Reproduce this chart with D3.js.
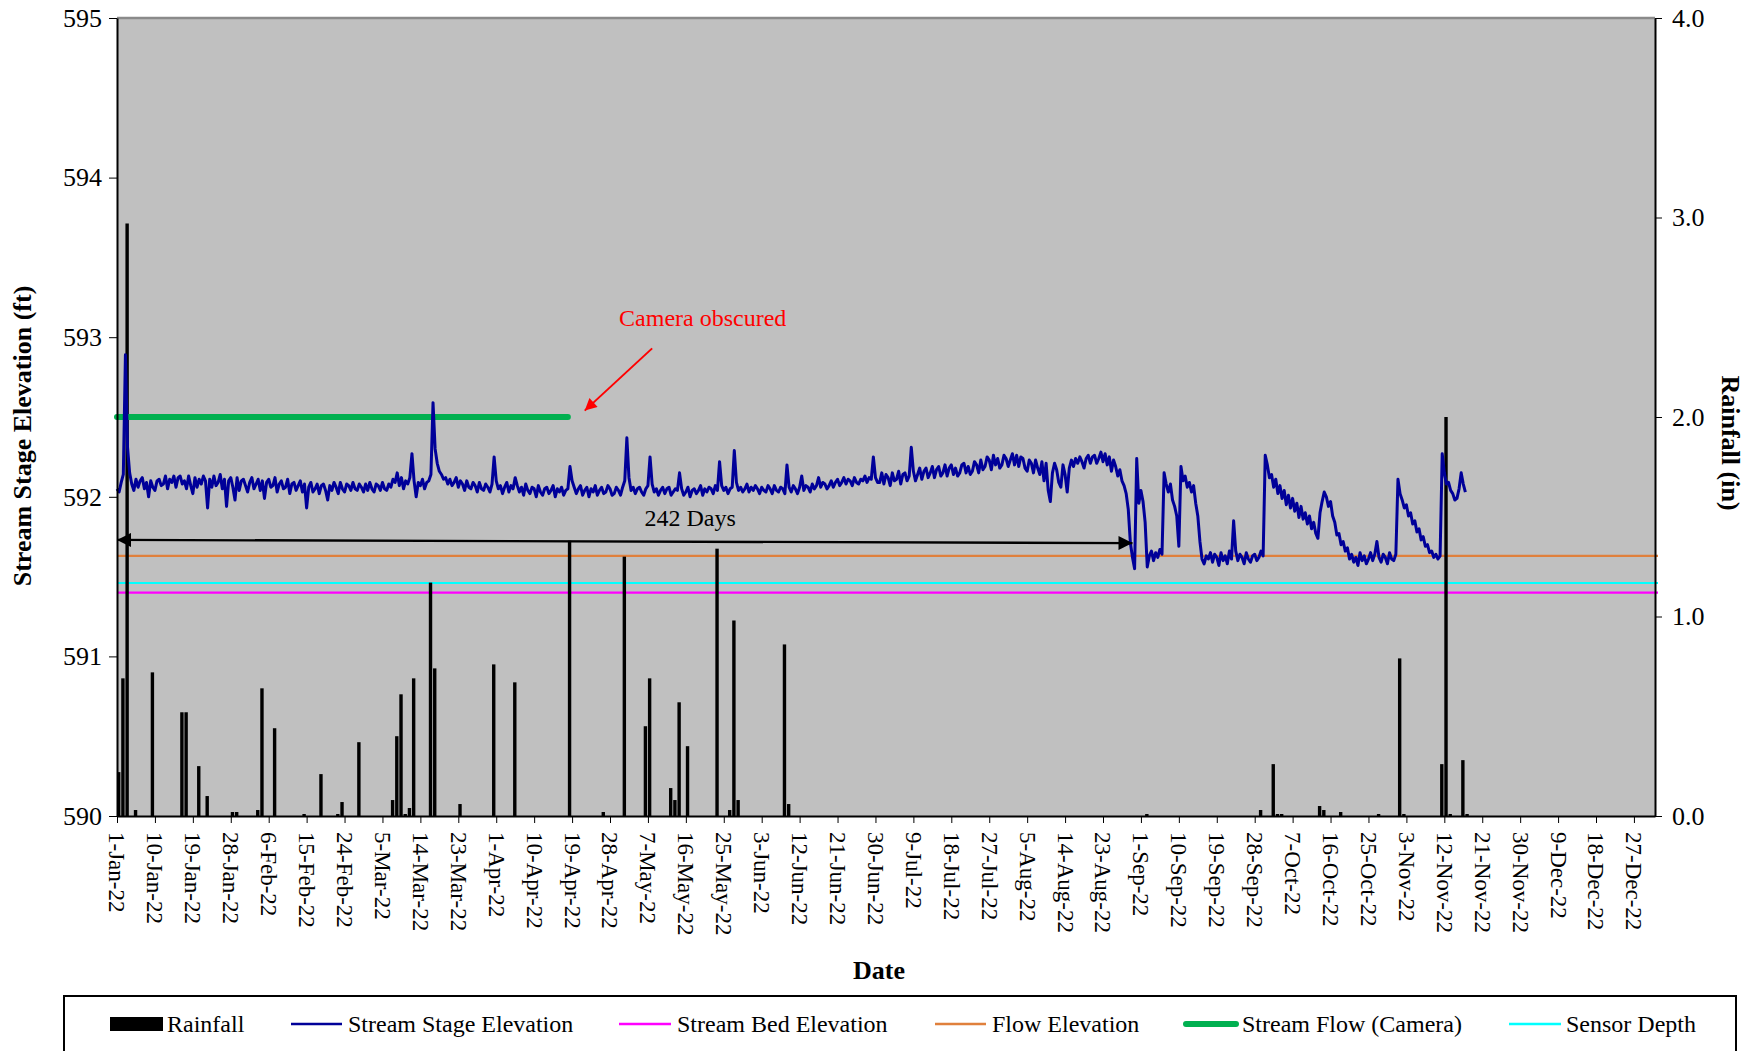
<!DOCTYPE html>
<html>
<head>
<meta charset="utf-8">
<script src="https://cdn.jsdelivr.net/npm/d3@7"></script>
<style>
  html, body { margin: 0; padding: 0; background: #fff; }
  svg { display: block; }
  svg text { font-family: "Liberation Serif", "Times New Roman", serif; fill: #000; }
</style>
</head>
<body>
<svg id="chart" width="1758" height="1051"></svg>
<script>
// ---------- x-axis tick dates (every 9 days) ----------
const tickLabels = [
  "1-Jan-22","10-Jan-22","19-Jan-22","28-Jan-22","6-Feb-22","15-Feb-22","24-Feb-22",
  "5-Mar-22","14-Mar-22","23-Mar-22","1-Apr-22","10-Apr-22","19-Apr-22","28-Apr-22",
  "7-May-22","16-May-22","25-May-22","3-Jun-22","12-Jun-22","21-Jun-22","30-Jun-22",
  "9-Jul-22","18-Jul-22","27-Jul-22","5-Aug-22","14-Aug-22","23-Aug-22","1-Sep-22",
  "10-Sep-22","19-Sep-22","28-Sep-22","7-Oct-22","16-Oct-22","25-Oct-22","3-Nov-22",
  "12-Nov-22","21-Nov-22","30-Nov-22","9-Dec-22","18-Dec-22","27-Dec-22"
];
const stageTicks = [590, 591, 592, 593, 594, 595];
const rainTicks = [0, 1, 2, 3, 4];

// ---------- daily rainfall (in) ----------
const rainDates = [
  "1-Jan-22","2-Jan-22","3-Jan-22","5-Jan-22","9-Jan-22","16-Jan-22","17-Jan-22","20-Jan-22",
  "22-Jan-22","28-Jan-22","29-Jan-22","3-Feb-22","4-Feb-22","7-Feb-22","14-Feb-22","18-Feb-22",
  "22-Feb-22","23-Feb-22","27-Feb-22","7-Mar-22","8-Mar-22","9-Mar-22","10-Mar-22","11-Mar-22",
  "12-Mar-22","16-Mar-22","17-Mar-22","23-Mar-22","31-Mar-22","5-Apr-22","18-Apr-22","26-Apr-22",
  "1-May-22","6-May-22","7-May-22","12-May-22","13-May-22","14-May-22","16-May-22","23-May-22",
  "26-May-22","27-May-22","28-May-22","8-Jun-22","9-Jun-22","2-Sep-22","29-Sep-22","2-Oct-22",
  "3-Oct-22","4-Oct-22","13-Oct-22","14-Oct-22","18-Oct-22","27-Oct-22","1-Nov-22","2-Nov-22",
  "11-Nov-22","12-Nov-22","13-Nov-22","16-Nov-22","17-Nov-22"
];
const rainInches = [
  0.22, 0.69, 2.97, 0.03, 0.72, 0.52, 0.52, 0.25,
  0.10, 0.02, 0.02, 0.03, 0.64, 0.44, 0.01, 0.21,
  0.01, 0.07, 0.37, 0.08, 0.40, 0.61, 0.01, 0.04,
  0.69, 1.17, 0.74, 0.06, 0.76, 0.67, 1.38, 0.02,
  1.30, 0.45, 0.69, 0.14, 0.08, 0.57, 0.35, 1.34,
  0.03, 0.98, 0.08, 0.86, 0.06, 0.01, 0.03, 0.26,
  0.01, 0.01, 0.05, 0.03, 0.02, 0.01, 0.79, 0.01,
  0.26, 2.00, 0.01, 0.28, 0.01
];

// ---------- stream stage elevation (ft), two readings per day (00:00, 12:00) ----------
const stageJan = [
  592.05,592.03, 592.09,592.14, 592.89,592.31, 592.15,592.08, 592.04,592.11,
  592.06,592.10, 592.12,592.05, 592.09,592.00, 592.10,592.06, 592.04,592.10,
  592.11,592.07, 592.08,592.13, 592.05,592.11, 592.09,592.13, 592.06,592.12,
  592.13,592.08, 592.10,592.05, 592.13,592.07, 592.02,592.12, 592.06,592.11,
  592.08,592.13, 592.10,591.93, 592.11,592.06, 592.13,592.07, 592.09,592.14,
  592.05,592.11, 591.94,592.10, 592.12,592.06, 591.98,592.12, 592.04,592.10,
  592.11,592.07
];
const stageFeb = [
  592.03,592.09, 592.12,592.05, 592.08,592.11, 592.04,592.10, 591.99,592.09,
  592.11,592.06, 592.07,592.12, 592.03,592.08, 592.10,592.05, 592.06,592.11,
  592.02,592.08, 592.09,592.04, 592.07,592.10, 592.03,592.08, 591.93,592.06,
  592.09,592.03, 592.05,592.08, 592.02,592.07, 592.08,592.04, 591.98,592.07,
  592.04,592.09, 592.06,592.02, 592.09,592.05, 592.03,592.08, 592.07,592.04,
  592.09,592.05, 592.04,592.08, 592.06,592.03
];
const stageMar = [
  592.08,592.04, 592.09,592.05, 592.03,592.08, 592.07,592.04, 592.09,592.05,
  592.04,592.08, 592.06,592.11, 592.09,592.15, 592.07,592.12, 592.05,592.10,
  592.08,592.12, 592.27,592.10, 592.00,592.09, 592.07,592.11, 592.05,592.09,
  592.10,592.14, 592.59,592.30, 592.21,592.16, 592.14,592.11, 592.12,592.08,
  592.11,592.07, 592.09,592.12, 592.06,592.10, 592.08,592.04, 592.10,592.06,
  592.05,592.09, 592.07,592.03, 592.09,592.05, 592.04,592.08, 592.06,592.03,
  592.08,592.25
];
const stageApr = [
  592.10,592.05, 592.07,592.02, 592.06,592.09, 592.03,592.07, 592.05,592.12,
  592.07,592.03, 592.06,592.01, 592.08,592.04, 592.02,592.06, 592.05,592.00,
  592.07,592.03, 592.01,592.05, 592.06,592.02, 592.04,592.07, 592.00,592.05,
  592.03,592.06, 592.01,592.04, 592.05,592.19, 592.10,592.06, 592.02,592.05,
  592.07,592.01, 592.04,592.06, 592.00,592.05, 592.03,592.07, 592.01,592.04,
  592.06,592.02, 592.03,592.07, 592.05,592.01, 592.02,592.06, 592.04,592.01
];
const stageMay = [
  592.06,592.10, 592.37,592.12, 592.04,592.06, 592.02,592.05, 592.06,592.03,
  592.01,592.05, 592.07,592.25, 592.08,592.03, 592.05,592.01, 592.04,592.06,
  592.02,592.05, 592.06,592.01, 592.03,592.05, 592.04,592.15, 592.05,592.01,
  592.03,592.06, 592.00,592.04, 592.05,592.02, 592.04,592.07, 592.01,592.05,
  592.03,592.06, 592.05,592.02, 592.07,592.04, 592.22,592.07, 592.04,592.06,
  592.02,592.05, 592.06,592.29, 592.09,592.04, 592.06,592.03, 592.05,592.08,
  592.03,592.06
];
const stageJun = [
  592.04,592.07, 592.05,592.02, 592.06,592.04, 592.03,592.07, 592.05,592.02,
  592.07,592.04, 592.03,592.06, 592.05,592.02, 592.20,592.06, 592.03,592.07,
  592.05,592.02, 592.06,592.13, 592.04,592.07, 592.06,592.03, 592.08,592.05,
  592.07,592.12, 592.06,592.09, 592.08,592.05, 592.07,592.10, 592.06,592.09,
  592.11,592.07, 592.09,592.12, 592.08,592.11, 592.10,592.07, 592.12,592.09,
  592.08,592.11, 592.10,592.13, 592.09,592.12, 592.11,592.25, 592.12,592.09
];
const stageJul = [
  592.09,592.15, 592.08,592.14, 592.12,592.07, 592.15,592.10, 592.11,592.16,
  592.08,592.14, 592.15,592.10, 592.13,592.31, 592.16,592.10, 592.14,592.18,
  592.11,592.16, 592.18,592.12, 592.15,592.19, 592.12,592.17, 592.19,592.13,
  592.15,592.20, 592.13,592.18, 592.20,592.14, 592.18,592.13, 592.15,592.20,
  592.21,592.15, 592.19,592.14, 592.16,592.22, 592.20,592.15, 592.23,592.17,
  592.19,592.25, 592.23,592.17, 592.26,592.20, 592.24,592.18, 592.20,592.26,
  592.24,592.19
];
const stageAug = [
  592.23,592.27, 592.20,592.26, 592.19,592.25, 592.24,592.18, 592.16,592.23,
  592.21,592.15, 592.23,592.18, 592.14,592.22, 592.10,592.21, 592.04,591.97,
  592.15,592.21, 592.17,592.09, 592.06,592.20, 592.14,592.03, 592.18,592.23,
  592.19,592.24, 592.21,592.25, 592.22,592.18, 592.24,592.26, 592.21,592.25,
  592.26,592.21, 592.24,592.28, 592.22,592.27, 592.20,592.25, 592.16,592.23,
  592.19,592.13, 592.17,592.10, 592.07,592.02, 591.92,591.71, 591.62,591.55,
  592.24,591.96
];
const stageSep = [
  592.04,591.97, 591.84,591.56, 591.63,591.66, 591.60,591.65, 591.62,591.67,
  591.64,592.15, 592.08,592.03, 592.08,591.98, 591.94,591.88, 591.69,592.19,
  592.10,592.13, 592.06,592.09, 592.03,592.07, 591.96,591.88, 591.72,591.61,
  591.58,591.63, 591.61,591.65, 591.59,591.64, 591.62,591.57, 591.65,591.60,
  591.63,591.58, 591.66,591.61, 591.85,591.66, 591.60,591.64, 591.62,591.58,
  591.65,591.61, 591.59,591.63, 591.64,591.60, 591.62,591.66, 591.63,592.26
];
const stageOct = [
  592.20,592.12, 592.14,592.06, 592.11,592.02, 592.07,591.99, 592.04,591.95,
  592.01,591.93, 591.99,591.91, 591.96,591.87, 591.94,591.86, 591.90,591.83,
  591.88,591.80, 591.84,591.77, 591.74,591.90, 591.97,592.03, 592.00,591.94,
  591.97,591.88, 591.84,591.76, 591.77,591.70, 591.72,591.66, 591.68,591.61,
  591.64,591.59, 591.62,591.57, 591.65,591.60, 591.63,591.58, 591.61,591.65,
  591.60,591.64, 591.72,591.62, 591.59,591.64, 591.62,591.58, 591.65,591.61,
  591.60,591.64
];
const stageNov = [
  592.11,592.02, 591.98,591.93, 591.95,591.88, 591.90,591.83, 591.85,591.78,
  591.80,591.73, 591.75,591.69, 591.70,591.65, 591.66,591.62, 591.64,591.61,
  591.63,592.27, 592.15,592.08, 592.09,592.04, 592.02,591.98, 591.99,592.05,
  592.15,592.08, 592.03
];
const stageMonthStarts = ["1-Jan-22","1-Feb-22","1-Mar-22","1-Apr-22","1-May-22","1-Jun-22",
                          "1-Jul-22","1-Aug-22","1-Sep-22","1-Oct-22","1-Nov-22"];
const stageMonths = [stageJan, stageFeb, stageMar, stageApr, stageMay, stageJun,
                     stageJul, stageAug, stageSep, stageOct, stageNov];

// ---------- constant reference elevations (ft) ----------
const flowElevation = 591.63;
const sensorDepth = 591.46;
const streamBedElevation = 591.40;
const cameraFlowLevel = 592.50;
const cameraFlowDates = ["1-Jan-22", "18-Apr-22"];

// ---------- annotations ----------
const spanDates = ["1-Jan-22", "30-Aug-22"];
const spanLevels = [591.73, 591.71];
const spanLabel = "242 Days";
const spanLabelAt = ["17-May-22", 591.82];
const cameraArrowDates = ["8-May-22", "22-Apr-22"];
const cameraArrowLevels = [592.93, 592.54];
const cameraLabel = "Camera obscured";
const cameraLabelAt = ["20-May-22", 593.07];

// ---------- layout ----------
const plot = { left: 117, right: 1655, top: 18, bottom: 816 };
const parse = d3.utcParse("%d-%b-%y");
const serif = "'Liberation Serif','Times New Roman',serif";

const svg = d3.select("#chart");

const x = d3.scaleUtc()
  .domain([parse("1-Jan-22"), parse("1-Jan-23")])
  .range([plot.left, plot.right]);
const yL = d3.scaleLinear().domain([590, 595]).range([plot.bottom, plot.top]);
const yR = d3.scaleLinear().domain([0, 4]).range([plot.bottom, plot.top]);

// build stage series
const halfDay = 12 * 3600 * 1000;
const stagePoints = [];
stageMonths.forEach((vals, m) => {
  const t0 = +parse(stageMonthStarts[m]);
  vals.forEach((v, i) => stagePoints.push({ date: new Date(t0 + i * halfDay), value: v }));
});

// plot area background
svg.append("rect")
  .attr("x", plot.left).attr("y", plot.top)
  .attr("width", plot.right - plot.left).attr("height", plot.bottom - plot.top)
  .attr("fill", "#c0c0c0");

// horizontal reference levels
const levels = [
  { v: flowElevation, color: "#e0803c" },
  { v: sensorDepth, color: "#00ffff" },
  { v: streamBedElevation, color: "#ff00ff" }
];
svg.append("g").selectAll("line").data(levels).join("line")
  .attr("x1", plot.left).attr("x2", plot.right + 3)
  .attr("y1", d => yL(d.v)).attr("y2", d => yL(d.v))
  .attr("stroke", d => d.color).attr("stroke-width", 2.2);

// rainfall bars
const rain = rainDates.map((d, i) => ({ date: parse(d), value: rainInches[i] }));
svg.append("g").selectAll("rect").data(rain).join("rect")
  .attr("x", d => x(d.date))
  .attr("width", 3.4)
  .attr("y", d => yR(d.value))
  .attr("height", d => yR(0) - yR(d.value))
  .attr("fill", "#000");

// stream flow observed by camera
svg.append("line")
  .attr("x1", x(parse(cameraFlowDates[0]))).attr("x2", x(parse(cameraFlowDates[1])))
  .attr("y1", yL(cameraFlowLevel)).attr("y2", yL(cameraFlowLevel))
  .attr("stroke", "#00b050").attr("stroke-width", 6).attr("stroke-linecap", "round");

// stream stage elevation
svg.append("path")
  .datum(stagePoints)
  .attr("fill", "none")
  .attr("stroke", "#000099")
  .attr("stroke-width", 3)
  .attr("stroke-linejoin", "round")
  .attr("d", d3.line().x(d => x(d.date)).y(d => yL(d.value)));

// top frame line
svg.append("line")
  .attr("x1", plot.left).attr("x2", plot.right)
  .attr("y1", plot.top).attr("y2", plot.top)
  .attr("stroke", "#8a8a8a").attr("stroke-width", 2.5);

// axes
const styleAxis = (g, size) => {
  g.attr("font-family", null).attr("font-size", null);
  g.selectAll("text").style("font-family", serif).style("font-size", size + "px").attr("fill", "#000");
  g.select(".domain").attr("stroke", "#000").attr("stroke-width", 2);
  g.selectAll(".tick line").attr("stroke", "#000");
};

const gL = svg.append("g").attr("transform", `translate(${plot.left},0)`)
  .call(d3.axisLeft(yL).tickValues(stageTicks).tickFormat(d3.format("d"))
    .tickSize(8).tickSizeOuter(0).tickPadding(7));
styleAxis(gL, 26);

const gR = svg.append("g").attr("transform", `translate(${plot.right},0)`)
  .call(d3.axisRight(yR).tickValues(rainTicks).tickFormat(d3.format(".1f"))
    .tickSize(7).tickSizeOuter(0).tickPadding(10));
styleAxis(gR, 26);

const gX = svg.append("g").attr("transform", `translate(0,${plot.bottom})`)
  .call(d3.axisBottom(x).tickValues(tickLabels.map(parse))
    .tickFormat((d, i) => tickLabels[i]).tickSize(7).tickSizeOuter(0));
styleAxis(gX, 23);
gX.selectAll("text")
  .attr("transform", "rotate(90)")
  .attr("x", 16).attr("y", 0).attr("dy", "0.35em")
  .style("text-anchor", "start");

// axis titles
svg.append("text")
  .attr("transform", "translate(31,436) rotate(-90)")
  .attr("text-anchor", "middle").attr("font-size", 26).attr("font-weight", "bold")
  .text("Stream Stage Elevation (ft)");
svg.append("text")
  .attr("transform", "translate(1722,443) rotate(90)")
  .attr("text-anchor", "middle").attr("font-size", 26).attr("font-weight", "bold")
  .text("Rainfall (in)");
svg.append("text")
  .attr("x", 879).attr("y", 979)
  .attr("text-anchor", "middle").attr("font-size", 26).attr("font-weight", "bold")
  .text("Date");

// arrowheads
const defs = svg.append("defs");
defs.append("marker").attr("id", "headBlack")
  .attr("viewBox", "0 0 10 10").attr("refX", 10).attr("refY", 5)
  .attr("markerWidth", 15).attr("markerHeight", 14)
  .attr("markerUnits", "userSpaceOnUse").attr("orient", "auto-start-reverse")
  .append("path").attr("d", "M0,0 L10,5 L0,10 Z").attr("fill", "#000");
defs.append("marker").attr("id", "headRed")
  .attr("viewBox", "0 0 10 10").attr("refX", 10).attr("refY", 5)
  .attr("markerWidth", 15).attr("markerHeight", 12)
  .attr("markerUnits", "userSpaceOnUse").attr("orient", "auto")
  .append("path").attr("d", "M0,0 L10,5 L0,10 Z").attr("fill", "#ff0000");

// 242-day span
svg.append("line")
  .attr("x1", x(parse(spanDates[0]))).attr("y1", yL(spanLevels[0]))
  .attr("x2", x(parse(spanDates[1]))).attr("y2", yL(spanLevels[1]))
  .attr("stroke", "#000").attr("stroke-width", 2.4)
  .attr("marker-start", "url(#headBlack)").attr("marker-end", "url(#headBlack)");
svg.append("text")
  .attr("x", x(parse(spanLabelAt[0]))).attr("y", yL(spanLabelAt[1]))
  .attr("text-anchor", "middle").attr("font-size", 24)
  .text(spanLabel);

// camera note
svg.append("line")
  .attr("x1", x(parse(cameraArrowDates[0]))).attr("y1", yL(cameraArrowLevels[0]))
  .attr("x2", x(parse(cameraArrowDates[1]))).attr("y2", yL(cameraArrowLevels[1]))
  .attr("stroke", "#ff0000").attr("stroke-width", 2)
  .attr("marker-end", "url(#headRed)");
svg.append("text")
  .attr("x", x(parse(cameraLabelAt[0]))).attr("y", yL(cameraLabelAt[1]))
  .attr("text-anchor", "middle").attr("font-size", 24).style("fill", "#ff0000")
  .text(cameraLabel);

// legend
const legend = svg.append("g");
legend.append("rect")
  .attr("x", 64).attr("y", 996).attr("width", 1672).attr("height", 120)
  .attr("fill", "none").attr("stroke", "#000").attr("stroke-width", 2);
const legendY = 1024;
const legendItems = [
  { label: "Rainfall", type: "bar", x0: 110, x1: 163, tx: 167 },
  { label: "Stream Stage Elevation", color: "#000099", w: 2.5, x0: 291, x1: 342, tx: 348 },
  { label: "Stream Bed Elevation", color: "#ff00ff", w: 2.5, x0: 619, x1: 671, tx: 677 },
  { label: "Flow Elevation", color: "#e0803c", w: 2.5, x0: 935, x1: 986, tx: 992 },
  { label: "Stream Flow (Camera)", color: "#00b050", w: 6, x0: 1186, x1: 1236, tx: 1242 },
  { label: "Sensor Depth", color: "#00ffff", w: 2.5, x0: 1509, x1: 1561, tx: 1566 }
];
legendItems.forEach(it => {
  if (it.type === "bar") {
    legend.append("rect").attr("x", it.x0).attr("y", legendY - 7)
      .attr("width", it.x1 - it.x0).attr("height", 14).attr("fill", "#000");
  } else {
    legend.append("line").attr("x1", it.x0).attr("x2", it.x1)
      .attr("y1", legendY).attr("y2", legendY)
      .attr("stroke", it.color).attr("stroke-width", it.w)
      .attr("stroke-linecap", it.w > 4 ? "round" : "butt");
  }
  legend.append("text").attr("x", it.tx).attr("y", legendY + 8)
    .attr("font-size", 24).text(it.label);
});
</script>
</body>
</html>
